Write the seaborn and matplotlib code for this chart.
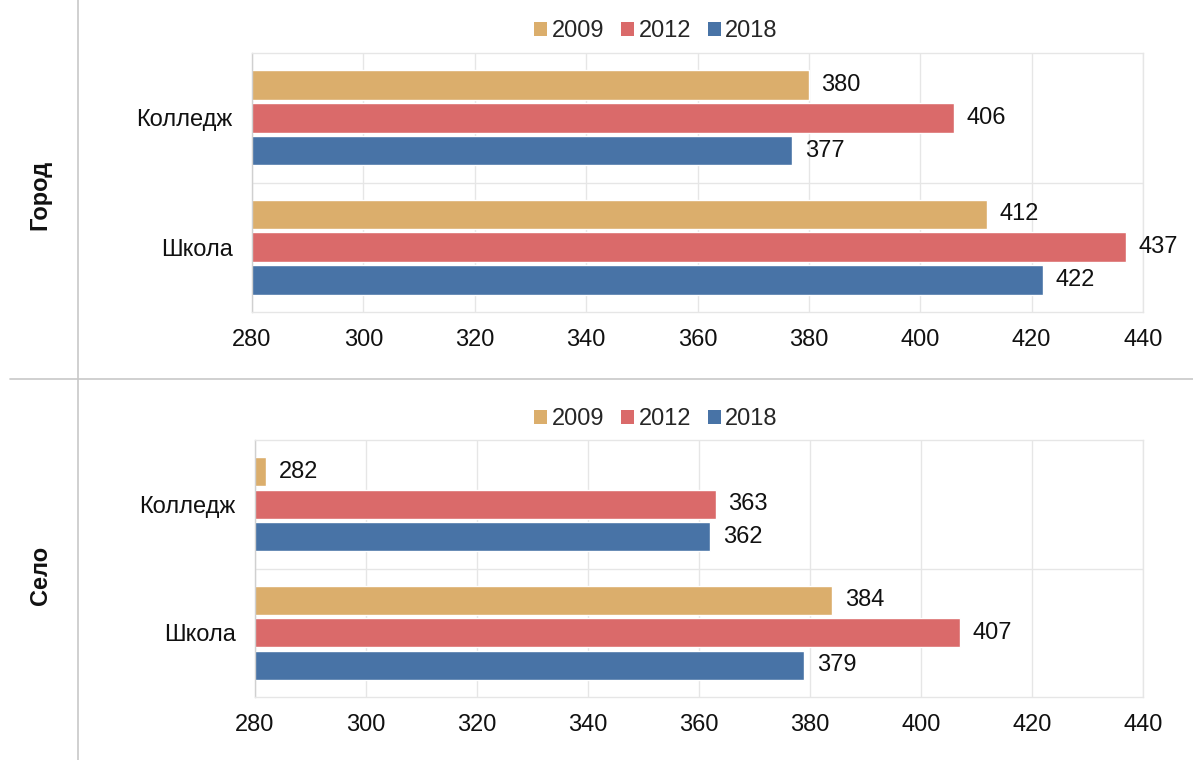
import pandas as pd
import matplotlib.pyplot as plt
import seaborn as sns
from matplotlib.lines import Line2D
from matplotlib.patches import Patch

# === Data ===
CATEGORIES = ["Колледж", "Школа"]
YEARS = ["2009", "2012", "2018"]
CITY_COLLEGE = [380, 406, 377]
CITY_SCHOOL = [412, 437, 422]
RURAL_COLLEGE = [282, 363, 362]
RURAL_SCHOOL = [384, 407, 379]
PANELS = ["Город", "Село"]
X_TICKS = [280, 300, 320, 340, 360, 380, 400, 420, 440]
COLORS = ["#DBAE6C", "#DA6A6A", "#4873A6"]


def make_frame(college, school):
    rows = []
    for cat, vals in zip(CATEGORIES, [college, school]):
        for year, v in zip(YEARS, vals):
            rows.append({"type": cat, "year": year, "score": v})
    return pd.DataFrame(rows)


frames = [make_frame(CITY_COLLEGE, CITY_SCHOOL), make_frame(RURAL_COLLEGE, RURAL_SCHOOL)]

# === Style ===
sns.set_theme(style="white")
plt.rcParams["font.family"] = ["Liberation Sans", "DejaVu Sans"]

fig = plt.figure(figsize=(11.93, 7.6), dpi=100)
axes_pos = [
    [252 / 1193, 1 - 312 / 760, (1143 - 252) / 1193, (312 - 53) / 760],
    [255 / 1193, 1 - 697 / 760, (1143 - 255) / 1193, (697 - 440) / 760],
]
legend_y = [1 - 31 / 760, 1 - 419 / 760]
label_y = [1 - 195 / 760, 1 - 575 / 760]

for df, pos, ly, lab_y, panel in zip(frames, axes_pos, legend_y, label_y, PANELS):
    ax = fig.add_axes(pos)
    sns.barplot(data=df, y="type", x="score", hue="year", orient="h",
                palette=COLORS, width=0.76, gap=0.1, ax=ax, legend=False,
                saturation=1)
    ax.set_xlim(X_TICKS[0], X_TICKS[-1])
    ax.set_xticks(X_TICKS)
    ax.set_ylim(1.5, -0.5)
    ax.set_xlabel("")
    ax.set_ylabel("")
    ax.tick_params(axis="x", labelsize=17, pad=12, length=0, colors="#111111")
    ax.tick_params(axis="y", labelsize=17, pad=14, length=0, colors="#111111")
    ax.xaxis.grid(True, color="#e6e6e6", linewidth=1)
    ax.axhline(0.5, color="#e6e6e6", linewidth=1)
    for sp in ax.spines.values():
        sp.set_color("#e6e6e6")
        sp.set_linewidth(1)
    ax.spines["left"].set_color("#d0d0d0")
    ax.set_axisbelow(True)
    for cont in ax.containers:
        ax.bar_label(cont, padding=9, fontsize=17, color="#111111")

    handles = [Patch(facecolor=c, edgecolor="none") for c in COLORS]
    fig.legend(handles, YEARS, loc="center", bbox_to_anchor=(656 / 1193, ly),
               ncol=3, frameon=False, fontsize=17, handlelength=0.55,
               handleheight=0.55, handletextpad=0.2, columnspacing=0.7)
    fig.text(40 / 1193, lab_y, panel, rotation=90, fontsize=17,
             fontweight="bold", ha="center", va="center", color="#111111")

# === Separators ===
fig.add_artist(Line2D([78 / 1193, 78 / 1193], [0, 1], color="#c8c8c8", linewidth=1.2))
fig.add_artist(Line2D([10 / 1193, 1], [1 - 379 / 760, 1 - 379 / 760], color="#c8c8c8", linewidth=1.2))

plt.savefig("out.png", dpi=100)
plt.close()
